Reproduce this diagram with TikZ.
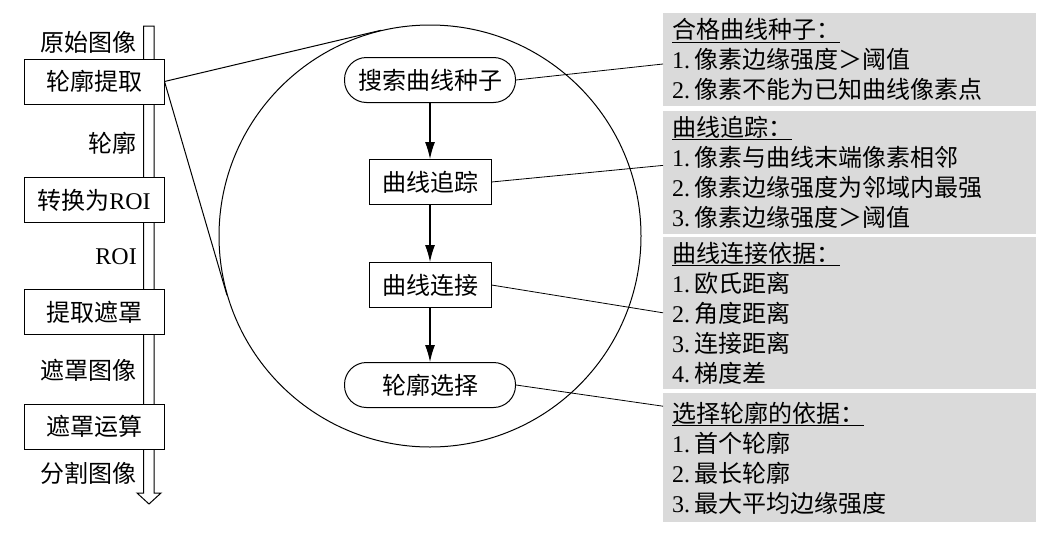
\documentclass[tikz,border=0pt]{standalone}
\usepackage{fontspec}
\setmainfont{Liberation Serif}
\newfontfamily\cjkfont{Noto Sans CJK SC}
\usetikzlibrary{positioning,arrows.meta,calc}
\newcommand\latn[1]{{\rmfamily #1}}
\newcommand\itm[1]{\latn{#1.}\hspace{4pt}}
\definecolor{panelgray}{RGB}{218,218,218}

\begin{document}
\begin{tikzpicture}[
  x=1pt,y=-1pt,
  font=\cjkfont\fontsize{24}{30}\selectfont,>=Latex,
  stage/.style={draw,line width=1pt,fill=white,minimum width=140pt,
                minimum height=45pt,inner sep=0pt},
  flow/.style={draw,line width=1pt,fill=white,minimum width=122pt,
               minimum height=45pt,inner sep=0pt},
  term/.style={flow,minimum width=171pt,rounded corners=22pt},
  panel/.style={fill=panelgray,anchor=north west,text width=355pt,
                inner xsep=9pt,inner ysep=0pt,align=left},
  lbl/.style={anchor=east,inner sep=0pt},
  arr/.style={-{Latex[length=17pt,width=10pt]},line width=1.1pt},
  lead/.style={line width=0.8pt},
]
  \useasboundingbox (0,0) rectangle (1059,538);

  % main pipeline on the left
  \draw[line width=1pt,fill=white] (143.5,26) -- (154,26) -- (154,493)
    -- (161,493) -- (149,504) -- (137,493) -- (143.5,493) -- cycle;
  \node[lbl] (lsrc)  at (137,42)  {原始图像};
  \node[lbl] (lcont) at (137,143) {轮廓};
  \node[lbl] (lroi)  at (137,257) {\latn{ROI}};
  \node[lbl] (lmask) at (137,370) {遮罩图像};
  \node[lbl] (lseg)  at (137,473) {分割图像};

  \node[stage] (extract) at (94,81.5) {轮廓提取};
  \node[stage] (roi)     at (94,200)  {转换为\latn{ROI}};
  \node[stage] (mask)    at (94,312)  {提取遮罩};
  \node[stage] (apply)   at (94,426.5) {遮罩运算};

  % zoom into contour extraction
  \node[draw,circle,line width=1pt,minimum size=422pt,inner sep=0pt]
    (zoomc) at (430,236) {};
  \draw[line width=1pt] (extract.east)
    -- (tangent cs:node=zoomc,point={(extract.east)},solution=1);
  \draw[line width=1pt] (extract.east)
    -- (tangent cs:node=zoomc,point={(extract.east)},solution=2);

  \node[term] (seed) at (430,80) {搜索曲线种子};
  \node[flow,below=56pt of seed]  (trace)  {曲线追踪};
  \node[flow,below=57pt of trace] (link)   {曲线连接};
  \node[term,below=54pt of link]  (select) {轮廓选择};
  \draw[arr] (seed) -- (trace);
  \draw[arr] (trace) -- (link);
  \draw[arr] (link) -- (select);

  % criteria panels
  \node[panel,minimum height=93pt] (seedp) at (663,13)
    {\underline{合格曲线种子：}\\
     \itm{1}像素边缘强度＞阈值\\
     \itm{2}像素不能为已知曲线像素点};
  \node[panel,minimum height=123pt,below=4pt of seedp.south west,anchor=north west]
    (tracep)
    {\underline{曲线追踪：}\\
     \itm{1}像素与曲线末端像素相邻\\
     \itm{2}像素边缘强度为邻域内最强\\
     \itm{3}像素边缘强度＞阈值};
  \node[panel,minimum height=152pt,below=3pt of tracep.south west,anchor=north west]
    (linkp)
    {\underline{曲线连接依据：}\\
     \itm{1}欧氏距离\\
     \itm{2}角度距离\\
     \itm{3}连接距离\\
     \itm{4}梯度差};
  \node[panel,minimum height=129pt,below=4pt of linkp.south west,anchor=north west]
    (selectp)
    {\underline{选择轮廓的依据：}\\
     \itm{1}首个轮廓\\
     \itm{2}最长轮廓\\
     \itm{3}最大平均边缘强度};

  \draw[lead] (seed.east)   -- ($(seedp.north west)+(0,51)$);
  \draw[lead] (trace.east)  -- ($(tracep.north west)+(0,55)$);
  \draw[lead] (link.east)   -- ($(linkp.north west)+(0,76)$);
  \draw[lead] (select.east) -- ($(selectp.north west)+(0,13)$);
\end{tikzpicture}
\end{document}
